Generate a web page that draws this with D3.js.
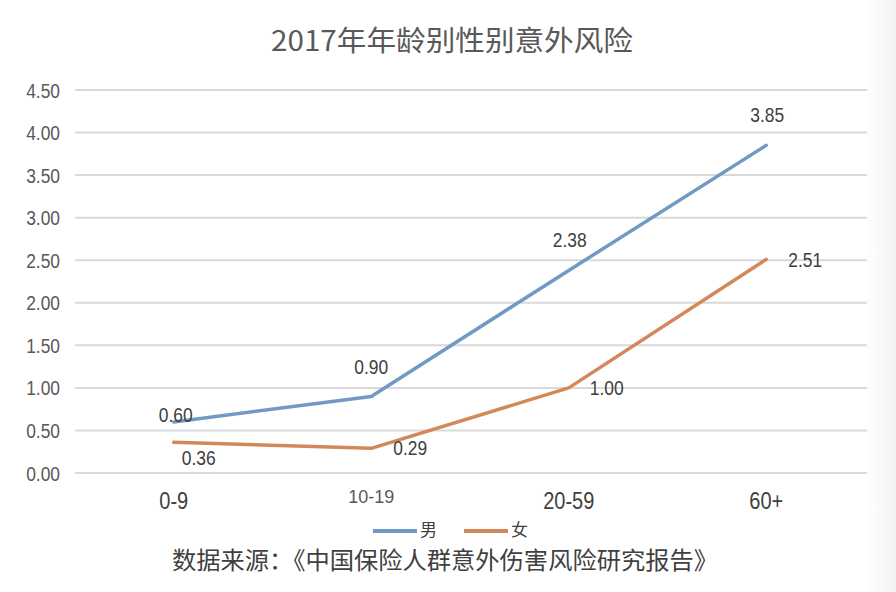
<!DOCTYPE html>
<html><head><meta charset="utf-8">
<script src="https://cdn.jsdelivr.net/npm/d3@7/dist/d3.min.js"></script>
<style>body{margin:0;background:#fff}svg{display:block}</style>
</head><body>
<script>
const categories = ["0-9", "10-19", "20-59", "60+"];
const maleValues = [0.60, 0.90, 2.38, 3.85];
const femaleValues = [0.36, 0.29, 1.00, 2.51];
const yTicks = [0, 0.5, 1, 1.5, 2, 2.5, 3, 3.5, 4, 4.5];
const seriesNames = ["男", "女"];
const titleText = "2017年年龄别性别意外风险";
const sourceText = "数据来源：《中国保险人群意外伤害风险研究报告》";

const W = 896, H = 592;
const svg = d3.select("body").append("svg").attr("width", W).attr("height", H);
svg.append("rect").attr("width", W).attr("height", H).attr("fill", "#fff");
const defs = svg.append("defs");
const g0 = defs.append("linearGradient").attr("id", "edge").attr("x1", 0).attr("x2", 1);
g0.append("stop").attr("offset", 0).attr("stop-color", "#fff");
g0.append("stop").attr("offset", 1).attr("stop-color", "#f3f3f3");
svg.append("rect").attr("x", 866).attr("y", 0).attr("width", 30).attr("height", H).attr("fill", "url(#edge)");

const cjk = "'Noto Sans CJK SC', 'Liberation Sans', sans-serif";
const num = "'Liberation Sans', Arial, sans-serif";
const SX = 0.87; // condensed look of numerals

const x = d3.scaleBand().domain(categories).range([75, 865]);
const y = d3.scaleLinear().domain([0, 4.5]).range([473, 90]);

// gridlines
svg.append("g").selectAll("line").data(yTicks).join("line")
  .attr("x1", 75).attr("x2", 867)
  .attr("y1", d => y(d)).attr("y2", d => y(d))
  .attr("stroke", "#d9d9d9").attr("stroke-width", 2);

// y axis labels
const yAxis = d3.axisLeft(y).tickValues(yTicks).tickFormat(d3.format(".2f")).tickSize(0).tickPadding(0);
const ya = svg.append("g").attr("transform", "translate(60,0)").call(yAxis);
ya.select(".domain").remove();
ya.selectAll("text").attr("font-family", num).attr("font-size", 20).attr("fill", "#595959")
  .attr("dy", "0.35em").attr("transform", `scale(${SX},1)`);

// x axis labels
const xAxis = d3.axisBottom(x).tickSize(0).tickPadding(0);
const xa = svg.append("g").attr("transform", "translate(0,0)").call(xAxis);
xa.select(".domain").remove();
xa.selectAll("text").attr("font-family", num).attr("dy", null).attr("y", 0)
  .attr("font-size", d => d === "10-19" ? 18 : 23)
  .attr("fill", d => d === "10-19" ? "#595959" : "#404040")
  .attr("transform", d => d === "10-19" ? "translate(0,503)" : `translate(0,509) scale(${SX},1)`);

const cx = d => x(d) + x.bandwidth() / 2;
const line = d3.line().x((d, i) => cx(categories[i])).y(d => y(d));

const colors = ["#7099c5", "#d3885a"];
[maleValues, femaleValues].forEach((vals, k) => {
  svg.append("path").datum(vals).attr("d", line)
    .attr("fill", "none").attr("stroke", colors[k]).attr("stroke-width", 3.5)
    .attr("stroke-linejoin", "round").attr("stroke-linecap", "round");
});

// data labels
const maleOff = [[2, -7], [0, -29], [1, -30], [1, -30]];
const femaleOff = [[25, 16], [39, 0], [38, 0], [39, 1]];
const fmt = d3.format(".2f");
function dataLabel(v, i, off) {
  svg.append("text")
    .attr("transform", `translate(${cx(categories[i]) + off[0]},${y(v) + off[1]}) scale(${SX},1)`)
    .attr("text-anchor", "middle").attr("dy", "0.35em")
    .attr("font-family", num).attr("font-size", 20).attr("fill", "#404040").text(fmt(v));
}
maleValues.forEach((v, i) => dataLabel(v, i, maleOff[i]));
femaleValues.forEach((v, i) => dataLabel(v, i, femaleOff[i]));

// title
svg.append("text").attr("x", 452).attr("y", 41).attr("text-anchor", "middle").attr("dy", "0.36em")
  .attr("font-family", cjk).attr("font-size", 28).attr("fill", "#595959")
  .attr("textLength", 362).attr("lengthAdjust", "spacingAndGlyphs").text(titleText);

// legend
const legX = [373, 464];
seriesNames.forEach((n, k) => {
  svg.append("line").attr("x1", legX[k]).attr("x2", legX[k] + 44).attr("y1", 531).attr("y2", 531)
    .attr("stroke", colors[k]).attr("stroke-width", 4);
  svg.append("text").attr("x", legX[k] + 47).attr("y", 530).attr("dy", "0.36em")
    .attr("font-family", cjk).attr("font-size", 17).attr("fill", "#404040").text(n);
});

// source
svg.append("text").attr("x", 445).attr("y", 560).attr("text-anchor", "middle").attr("dy", "0.36em")
  .attr("font-family", cjk).attr("font-size", 24).attr("fill", "#404040")
  .attr("textLength", 546).attr("lengthAdjust", "spacingAndGlyphs").text(sourceText);
</script>
</body></html>
